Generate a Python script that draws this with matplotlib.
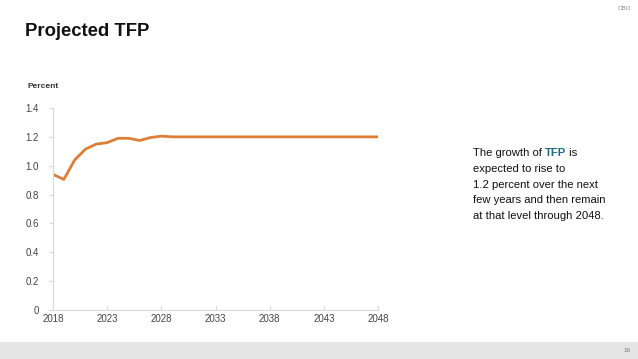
import matplotlib
matplotlib.use("Agg")
import matplotlib.pyplot as plt
from matplotlib.patches import Rectangle

plt.rcParams['font.family'] = ['Liberation Sans', 'DejaVu Sans']

# Veriler
years = list(range(2018, 2049))
tfp = [0.94, 0.905, 1.04, 1.115, 1.15, 1.16, 1.19, 1.19, 1.175, 1.195, 1.205] + [1.2] * 20
xticks = [2018, 2023, 2028, 2033, 2038, 2043, 2048]
yticks = [0, 0.2, 0.4, 0.6, 0.8, 1.0, 1.2, 1.4]
ytick_labels = ["0", "0.2", "0.4", "0.6", "0.8", "1.0", "1.2", "1.4"]

W, H = 638, 359
fig = plt.figure(figsize=(W / 100, H / 100), dpi=100)

# Alt gri bant
fig.patches.append(Rectangle((0, 0), 1, 17 / H, transform=fig.transFigure,
                             facecolor="#e4e4e4", edgecolor="none"))
fig.text(630 / W, 1 - 350 / H, "16", fontsize=4.5, color="#777777", ha="right", va="center")
fig.text(631 / W, 1 - 9 / H, "CBO", fontsize=4.5, color="#888888", ha="right", va="center")

# Başlık
fig.text(25 / W, 1 - 32 / H, "Projected TFP", fontsize=13.3, fontweight="bold",
         color="#111111", va="center", ha="left")
fig.text(27 / W, 1 - 86 / H, "Percent", fontsize=6, fontweight="bold",
         color="#333333", va="center", ha="left")

# Çizim alanı
ax = fig.add_axes([53 / W, 1 - 310 / H, (378 - 53) / W, (310 - 108) / H])
ax.plot(years, tfp, color="#DE7E37", lw=2.0, solid_joinstyle="round")
ax.set_xlim(2018, 2048)
ax.set_ylim(0, 1.4)
ax.set_xticks(xticks)
ax.set_xticklabels([str(t) for t in xticks])
ax.set_yticks(yticks)
ax.set_yticklabels(ytick_labels)
for s in ["top", "right"]:
    ax.spines[s].set_visible(False)
for s in ["left", "bottom"]:
    ax.spines[s].set_color("#d9d9d9")
    ax.spines[s].set_linewidth(0.8)
ax.tick_params(axis="x", direction="in", length=3, color="#d9d9d9", labelsize=7,
               labelcolor="#444444", pad=3)
ax.tick_params(axis="y", direction="out", length=3, color="#d9d9d9", labelsize=7,
               labelcolor="#444444", pad=7)
ax.patch.set_alpha(0)

# Sağdaki açıklama metni
fs = 8.1
x0 = 473 / W
lines_y = [153, 169, 185, 200, 216]
renderer = fig.canvas.get_renderer()
t1 = fig.text(x0, 1 - lines_y[0] / H, "The growth of ", fontsize=fs, color="#111111", va="center")
bb = t1.get_window_extent(renderer)
t2 = fig.text(bb.x1 / W, 1 - lines_y[0] / H, "TFP", fontsize=fs, fontweight="bold",
              color="#1f6a85", va="center")
bb2 = t2.get_window_extent(renderer)
fig.text(bb2.x1 / W, 1 - lines_y[0] / H, " is", fontsize=fs, color="#111111", va="center")
rest = ["expected to rise to", "1.2 percent over the next",
        "few years and then remain", "at that level through 2048."]
for yy, s in zip(lines_y[1:], rest):
    fig.text(x0, 1 - yy / H, s, fontsize=fs, color="#111111", va="center")

fig.savefig("out.png", dpi=100)
